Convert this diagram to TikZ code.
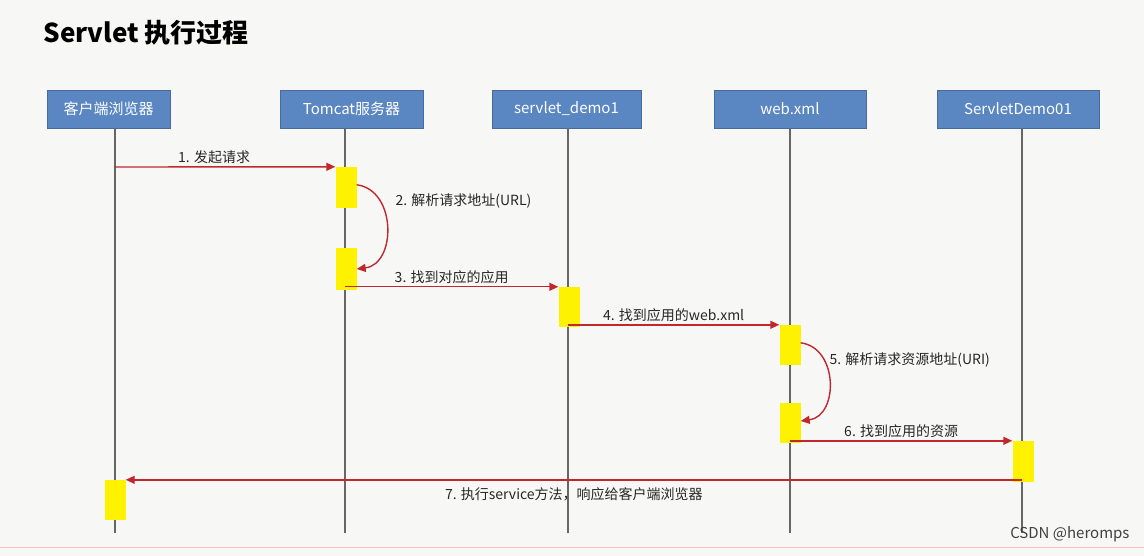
\documentclass[tikz,border=0pt]{standalone}
\usepackage{fontspec}
\setmainfont{Noto Sans CJK SC}
\usetikzlibrary{arrows.meta}
\definecolor{hdr}{HTML}{5A86C2}
\definecolor{arr}{HTML}{C0282D}
\definecolor{bg}{HTML}{F7F8F6}
\tikzset{
 hbox/.style={fill=hdr,draw=hdr!80!black,line width=0.5pt,text=white,font=\fontsize{15}{17}\selectfont,minimum height=38pt,inner sep=0pt},
 act/.style={fill=yellow,draw=none,minimum width=21pt,inner sep=0pt},
 life/.style={draw=gray!80!black,line width=1.2pt},
 msg/.style={draw=arr,line width=1.4pt,-{Triangle[length=9pt,width=8pt]}},
 lbl/.style={font=\fontsize{14}{16}\selectfont,text=black!85}
}
\begin{document}
\begin{tikzpicture}[x=1pt,y=-1pt]
\fill[bg] (0,0) rectangle (1144,556);
\useasboundingbox (0,0) rectangle (1144,556);
\draw[red!25,line width=1pt] (0,547) -- (1144,547);
\node[anchor=west,font=\bfseries\fontsize{26}{29}\selectfont] (title) at (40,33) {Servlet 执行过程};
\node[hbox,minimum width=123pt] (h1) at (108.5,109) {客户端浏览器};
\node[hbox,minimum width=143pt] (h2) at (351.5,109) {Tomcat服务器};
\node[hbox,minimum width=149pt] (h3) at (566.5,109) {servlet\_demo1};
\node[hbox,minimum width=152pt] (h4) at (790,109) {web.xml};
\node[hbox,minimum width=162pt] (h5) at (1018,109) {ServletDemo01};
\coordinate (e1) at (115,533); \coordinate (e2) at (345,533);
\coordinate (e3) at (568,533); \coordinate (e4) at (790,533);
\coordinate (e5) at (1022,533);
\draw[life] (h1.south -| e1) -- (e1);
\draw[life] (h2.south -| e2) -- (e2);
\draw[life] (h3.south -| e3) -- (e3);
\draw[life] (h4.south -| e4) -- (e4);
\draw[life] (h5.south -| e5) -- (e5);
\node[act,minimum height=41pt] (a1) at (346,187.5) {};
\node[act,minimum height=42pt] (a2) at (346,269) {};
\node[act,minimum height=40pt] (a3) at (569,307) {};
\node[act,minimum height=40pt] (a4) at (790,345) {};
\node[act,minimum height=40pt] (a5) at (790,423) {};
\node[act,minimum height=41pt] (a6) at (1023,461.5) {};
\node[act,minimum height=40pt] (a7) at (115,500) {};
\coordinate (s1) at (115,167);
\draw[msg] (s1) -- (a1.north west) node[lbl,pos=0.45,above=-1pt] {1. 发起请求};
\draw[msg] ([yshift=-18pt]a1.north east) .. controls +(40,5) and +(40,-5) .. (a2.east) ;
\node[lbl,anchor=west] (l2) at (392,201) {2. 解析请求地址(URL)};
\draw[msg] (a3.north west -| e2) -- (a3.north west) node[lbl,pos=0.5,above=-1pt] {3. 找到对应的应用};
\draw[msg] (a4.north west -| e3) -- (a4.north west) node[lbl,pos=0.5,above=-1pt] {4. 找到应用的web.xml};
\draw[msg] ([yshift=-18pt]a4.north east) .. controls +(38,5) and +(38,-5) .. ([yshift=2pt]a5.east);
\node[lbl,anchor=west] (l5) at (826,360) {5. 解析请求资源地址(URI)};
\draw[msg] (a6.north west -| e4) -- (a6.north west) node[lbl,pos=0.5,above=-1pt] {6. 找到应用的资源};
\draw[msg] (a7.north east -| e5) -- (a7.north east) node[lbl,pos=0.5,below=4pt] {7. 执行service方法，响应给客户端浏览器};
\node[anchor=east,font=\fontsize{15}{17}\selectfont,text=black!75] (wm) at (1133,534) {CSDN @heromps};
\end{tikzpicture}
\end{document}
